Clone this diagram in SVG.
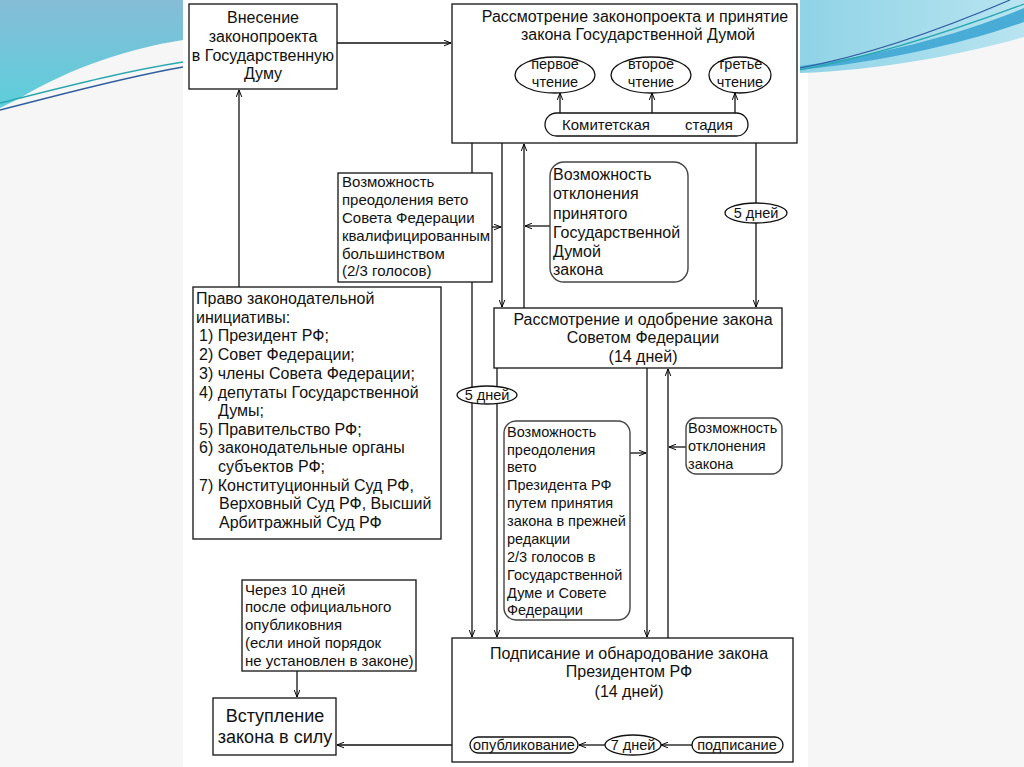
<svg xmlns="http://www.w3.org/2000/svg" width="1024" height="767" viewBox="0 0 1024 767">
<defs>
<linearGradient id="gl" x1="0" y1="0" x2="0" y2="1">
<stop offset="0" stop-color="#86bcd6"/><stop offset="1" stop-color="#5ccfdc"/>
</linearGradient>
<linearGradient id="gr" x1="0" y1="0" x2="1" y2="0">
<stop offset="0" stop-color="#8fd3e6"/><stop offset="1" stop-color="#b8e4f0"/>
</linearGradient>
<marker id="a" viewBox="0 0 10 10" refX="10" refY="5" markerWidth="7" markerHeight="7" markerUnits="userSpaceOnUse" orient="auto">
<path d="M0,1 L10,5 L0,9" fill="none" stroke="#000" stroke-width="1.4"/>
</marker>
<style>
text{font-family:"Liberation Sans",Arial,sans-serif;fill:#111}
.b{fill:#fff;stroke:#111;stroke-width:1.3}
.r{fill:#fff;stroke:#444;stroke-width:1.4}
.c{fill:none;stroke:#111;stroke-width:1.3}
.ca{fill:none;stroke:#111;stroke-width:1.3;marker-end:url(#a)}
.m{text-anchor:middle}
.f16{font-size:16px}
.f15{font-size:15px}
.f14{font-size:14.5px}
.f18{font-size:18px}
</style>
</defs>
<rect x="0" y="0" width="1024" height="767" fill="#f6f6f6"/>
<rect x="183" y="0" width="625" height="767" fill="#fff"/>
<g id="decor">
<path d="M0,0 H183 V40 C130,48 70,68 20,98 L0,108 Z" fill="url(#gl)"/>
<path d="M0,103 C60,88 120,72 183,62" fill="none" stroke="#2aa8b0" stroke-width="1.5"/>
<path d="M0,110 C60,95 120,78 183,67" fill="none" stroke="#2f5f9f" stroke-width="1.5"/>
<path d="M800,0 H1024 V37 C960,55 880,70 800,73 Z" fill="url(#gr)"/>
<path d="M800,66 C880,55 960,35 1024,8 L1024,22 C960,45 880,62 800,70 Z" fill="#48acd6"/>
<path d="M800,68 C870,55 940,30 1010,0" fill="none" stroke="#2f5f9f" stroke-width="1.2"/>
<path d="M800,70 C880,55 960,28 1024,4" fill="none" stroke="#2aa8b0" stroke-width="1.2"/>
</g>
<g id="connectors">
<line class="ca" x1="337" y1="43" x2="451" y2="43"/>
<line class="ca" x1="239" y1="287" x2="239" y2="90"/>
<line class="ca" x1="472" y1="143" x2="472" y2="637"/>
<line class="ca" x1="502" y1="143" x2="502" y2="307"/>
<line class="ca" x1="524" y1="308" x2="524" y2="144"/>
<line class="ca" x1="756" y1="143" x2="756" y2="307"/>
<line class="ca" x1="492" y1="227" x2="501" y2="227"/>
<line class="ca" x1="550" y1="226" x2="525" y2="226"/>
<line class="ca" x1="497" y1="368" x2="497" y2="637"/>
<line class="ca" x1="647" y1="368" x2="647" y2="637"/>
<line class="ca" x1="668" y1="638" x2="668" y2="369"/>
<line class="ca" x1="630" y1="453" x2="646" y2="453"/>
<line class="ca" x1="686" y1="447" x2="669" y2="447"/>
<line class="ca" x1="297" y1="671" x2="297" y2="697"/>
<line class="ca" x1="470" y1="745" x2="337" y2="745"/>
</g>
<g id="n-vnesenie">
<rect class="b" x="189" y="4" width="148" height="85"/>
<text class="m f16" x="263" y="23">Внесение</text>
<text class="m f16" x="263" y="42">законопроекта</text>
<text class="m f16" x="263" y="61">в Государственную</text>
<text class="m f16" x="263" y="79">Думу</text>
</g>
<g id="n-duma">
<rect class="b" x="452" y="4" width="345" height="139"/>
<text class="m f16" x="635" y="22">Рассмотрение законопроекта и принятие</text>
<text class="m f16" x="638" y="40">закона Государственной Думой</text>
</g>
<g id="n-podpis">
<rect class="b" x="452" y="638" width="341" height="124"/>
<text class="m f16" x="629" y="659">Подписание и обнародование закона</text>
<text class="m f16" x="629" y="677">Президентом РФ</text>
<text class="m f16" x="629" y="697">(14 дней)</text>
</g>
<g id="connectors-inner">
<line class="ca" x1="560" y1="113" x2="560" y2="93"/>
<line class="ca" x1="652" y1="113" x2="652" y2="93"/>
<line class="ca" x1="735" y1="113" x2="735" y2="93"/>
<line class="ca" x1="692" y1="745" x2="661" y2="745"/>
<line class="ca" x1="605" y1="745" x2="579" y2="745"/>
</g>
<g id="n-first">
<ellipse class="b" cx="555" cy="75" rx="40" ry="18"/>
<text class="m f14" x="555" y="69">первое</text>
<text class="m f14" x="555" y="87">чтение</text>
</g>
<g id="n-second">
<ellipse class="b" cx="651" cy="75" rx="40" ry="18"/>
<text class="m f14" x="651" y="69">второе</text>
<text class="m f14" x="651" y="87">чтение</text>
</g>
<g id="n-third">
<ellipse class="b" cx="740" cy="75" rx="31" ry="18"/>
<text class="m f14" x="740" y="69">третье</text>
<text class="m f14" x="740" y="87">чтение</text>
</g>
<g id="n-committee">
<rect class="b" x="545" y="113" width="203" height="23" rx="11.5"/>
<text class="f15" x="562" y="130">Комитетская</text>
<text class="f15" x="685" y="130">стадия</text>
</g>
<g id="n-vetosf">
<rect class="b" x="338" y="173" width="154" height="109"/>
<text class="f15" x="342" y="187">Возможность</text>
<text class="f15" x="342" y="205">преодоления вето</text>
<text class="f15" x="342" y="223">Совета Федерации</text>
<text class="f15" x="342" y="241">квалифицированным</text>
<text class="f15" x="342" y="259">большинством</text>
<text class="f15" x="342" y="276">(2/3 голосов)</text>
</g>
<g id="n-otkl1">
<rect class="r" x="550" y="162" width="138" height="120" rx="14"/>
<text class="f16" x="553" y="180">Возможность</text>
<text class="f16" x="553" y="199">отклонения</text>
<text class="f16" x="553" y="219">принятого</text>
<text class="f16" x="553" y="238">Государственной</text>
<text class="f16" x="553" y="257">Думой</text>
<text class="f16" x="553" y="275">закона</text>
</g>
<g id="n-5d1">
<ellipse class="b" cx="756" cy="213" rx="31" ry="10"/>
<text class="m f14" x="756" y="218">5 дней</text>
</g>
<g id="n-pravo">
<rect class="b" x="193" y="287" width="248" height="252"/>
<text class="f16" x="196" y="304">Право законодательной</text>
<text class="f16" x="196" y="323">инициативы:</text>
<text class="f16" x="199" y="341">1) Президент РФ;</text>
<text class="f16" x="199" y="360">2) Совет Федерации;</text>
<text class="f16" x="199" y="379">3) члены Совета Федерации;</text>
<text class="f16" x="199" y="398">4) депутаты Государственной</text>
<text class="f16" x="218" y="416">Думы;</text>
<text class="f16" x="199" y="435">5) Правительство РФ;</text>
<text class="f16" x="199" y="453">6) законодательные органы</text>
<text class="f16" x="218" y="472">субъектов РФ;</text>
<text class="f16" x="199" y="491">7) Конституционный Суд РФ,</text>
<text class="f16" x="219" y="509">Верховный Суд РФ, Высший</text>
<text class="f16" x="219" y="528">Арбитражный Суд РФ</text>
</g>
<g id="n-sf">
<rect class="b" x="494" y="308" width="288" height="60"/>
<text class="m f16" x="643" y="325">Рассмотрение и одобрение закона</text>
<text class="m f16" x="643" y="343">Советом Федерации</text>
<text class="m f16" x="643" y="362">(14 дней)</text>
</g>
<g id="n-5d2">
<ellipse class="b" cx="487" cy="395" rx="30" ry="9"/>
<text class="m f14" x="487" y="400">5 дней</text>
</g>
<g id="n-vetopres">
<rect class="r" x="504" y="421" width="126" height="199" rx="12"/>
<text class="f14" x="507" y="437">Возможность</text>
<text class="f14" x="507" y="455">преодоления</text>
<text class="f14" x="507" y="472">вето</text>
<text class="f14" x="507" y="490">Президента РФ</text>
<text class="f14" x="507" y="508">путем принятия</text>
<text class="f14" x="507" y="526">закона в прежней</text>
<text class="f14" x="507" y="544">редакции</text>
<text class="f14" x="507" y="562">2/3 голосов в</text>
<text class="f14" x="507" y="580">Государственной</text>
<text class="f14" x="507" y="598">Думе и Совете</text>
<text class="f14" x="507" y="615">Федерации</text>
</g>
<g id="n-otkl2">
<rect class="r" x="686" y="418" width="96" height="56" rx="10"/>
<text class="f14" x="688" y="433">Возможность</text>
<text class="f14" x="688" y="451">отклонения</text>
<text class="f14" x="688" y="469">закона</text>
</g>
<g id="n-cherez">
<rect class="b" x="242" y="580" width="174" height="91"/>
<text class="f15" x="245" y="595">Через 10 дней</text>
<text class="f15" x="245" y="612">после официального</text>
<text class="f15" x="245" y="630">опубликовния</text>
<text class="f15" x="245" y="648">(если иной порядок</text>
<text class="f15" x="245" y="666">не установлен в законе)</text>
</g>
<g id="n-vstup">
<rect class="b" x="213" y="698" width="123" height="57"/>
<text class="m f18" x="275" y="722">Вступление</text>
<text class="m f18" x="275" y="743">закона в силу</text>
</g>
<g id="n-publ">
<rect class="b" x="470" y="737" width="108" height="16" rx="8"/>
<text class="m f14" x="524" y="750">опубликование</text>
</g>
<g id="n-7d">
<ellipse class="b" cx="633" cy="745" rx="28" ry="10"/>
<text class="m f14" x="633" y="750">7 дней</text>
</g>
<g id="n-podp">
<rect class="b" x="692" y="737" width="91" height="16" rx="8"/>
<text class="m f14" x="737" y="750">подписание</text>
</g>
</svg>
